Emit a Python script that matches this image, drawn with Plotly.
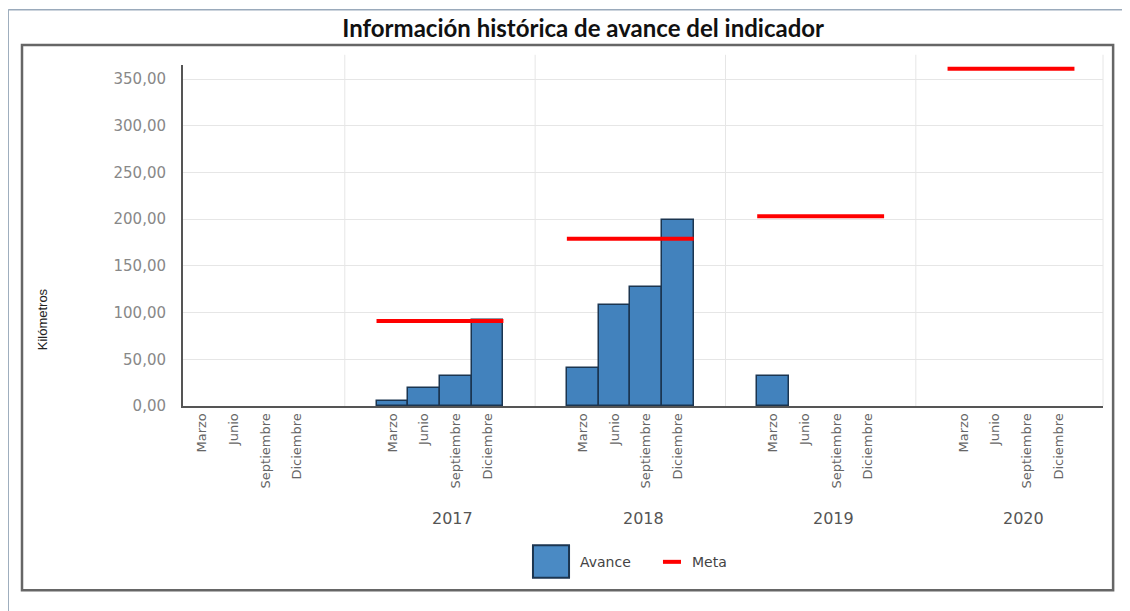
import plotly.graph_objects as go

# ---- data ----
quarters = ["Marzo", "Junio", "Septiembre", "Diciembre"]
year_labels = ["", "2017", "2018", "2019", "2020"]
avance_g0 = [None, None, None, None]
avance_2017 = [5, 19, 32, 92]
avance_2018 = [41, 108, 127, 199]
avance_2019 = [32, None, None, None]
avance_2020 = [None, None, None, None]
meta = [None, 91, 179, 203, 361]

avance_groups = [avance_g0, avance_2017, avance_2018, avance_2019, avance_2020]

BAR_COLOR = "#4282bd"
BAR_LINE = "#1b3550"
META_COLOR = "#ff0000"

GROUP_STEP = 6
offsets = [-1.5, -0.5, 0.5, 1.5]
centers = [g * GROUP_STEP for g in range(len(year_labels))]

bx, by, tickvals, ticktext = [], [], [], []
for c, vals in zip(centers, avance_groups):
    for off, q, v in zip(offsets, quarters, vals):
        bx.append(c + off)
        by.append(v)
        tickvals.append(c + off)
        ticktext.append(q)

mx, my = [], []
for c, m in zip(centers, meta):
    if m is None:
        continue
    mx += [c - 2, c + 2, None]
    my += [m, m, None]

fig = go.Figure()
fig.add_trace(go.Bar(
    x=bx, y=by, width=1, name="Avance", showlegend=False,
    marker=dict(color=BAR_COLOR, line=dict(color=BAR_LINE, width=1.5)),
))
fig.add_trace(go.Scatter(
    x=mx, y=my, mode="lines", name="Meta", showlegend=False,
    line=dict(color=META_COLOR, width=4),
))

shapes = []
# vertical grid lines at group boundaries
for c in centers[:-1]:
    b = c + GROUP_STEP / 2
    shapes.append(dict(type="line", xref="x", yref="paper", x0=b, x1=b, y0=0, y1=1.03,
                       line=dict(color="#e6e6e6", width=1), layer="below"))
shapes.append(dict(type="line", xref="paper", yref="paper", x0=1, x1=1, y0=0, y1=1.03,
                   line=dict(color="#e6e6e6", width=1), layer="below"))
# outer chart box
shapes.append(dict(type="rect", xref="paper", yref="paper", x0=-0.175, x1=1.011, y0=-0.54, y1=1.059,
                   line=dict(color="#666666", width=2.5), layer="below"))
# frame lines of the image
shapes.append(dict(type="line", xref="paper", yref="paper", x0=-0.19, x1=1.05, y0=1.162, y1=1.162,
                   line=dict(color="#9aaabb", width=1.5)))
shapes.append(dict(type="line", xref="paper", yref="paper", x0=-0.19, x1=-0.19, y0=1.162, y1=-0.62,
                   line=dict(color="#9aaabb", width=1.5)))
# legend symbols
shapes.append(dict(type="rect", xref="paper", yref="paper", x0=0.3804, x1=0.4196, y0=-0.504, y1=-0.408,
                   fillcolor="#4a8ac4", line=dict(color=BAR_LINE, width=2)))
shapes.append(dict(type="line", xref="paper", yref="paper", x0=0.5217, x1=0.5413, y0=-0.457, y1=-0.457,
                   line=dict(color=META_COLOR, width=4)))

annotations = []
for c, yl in zip(centers, year_labels):
    if yl:
        annotations.append(dict(x=c + 0.4, y=-0.364, xref="x", yref="paper", text=yl, showarrow=False,
                                font=dict(family="DejaVu Sans", size=16, color="#555555")))
annotations.append(dict(x=-0.153, y=0.255, xref="paper", yref="paper", text="Kilómetros", showarrow=False,
                        xanchor="center", yanchor="middle", textangle=-90,
                        font=dict(family="Liberation Sans Narrow, Liberation Sans", size=13, color="#222222")))
# legend labels
annotations.append(dict(x=0.429, y=-0.457, xref="paper", yref="paper", text="Avance", showarrow=False,
                        xanchor="left", yanchor="middle",
                        font=dict(family="DejaVu Sans", size=14, color="#444444")))
annotations.append(dict(x=0.551, y=-0.457, xref="paper", yref="paper", text="Meta", showarrow=False,
                        xanchor="left", yanchor="middle",
                        font=dict(family="DejaVu Sans", size=14, color="#444444")))

fig.update_layout(
    width=1130, height=611,
    margin=dict(l=175, r=35, t=57, b=213),
    paper_bgcolor="white", plot_bgcolor="white",
    separators=",.",
    showlegend=False,
    title=dict(text="<b>Información histórica de avance del indicador</b>", x=0.509, xanchor="center",
               y=0.967, yanchor="middle", font=dict(family="Lato", size=24, color="#111111")),
    xaxis=dict(range=[-2.1, 26.9], tickvals=tickvals, ticktext=ticktext, tickangle=-90,
               showgrid=False, zeroline=False, showline=True, linecolor="#555555", linewidth=2,
               tickfont=dict(family="DejaVu Sans", size=13, color="#666666")),
    yaxis=dict(range=[0, 365], dtick=50, tickformat=".2f", showgrid=True, gridcolor="#e6e6e6",
               zeroline=False, showline=True, linecolor="#555555", linewidth=2,
               tickfont=dict(family="DejaVu Sans", size=15, color="#888888"), ticks="", ticklen=0,
               ticklabelstandoff=12),
    shapes=shapes, annotations=annotations,
    bargap=0,
)
fig.write_html("out.html")
